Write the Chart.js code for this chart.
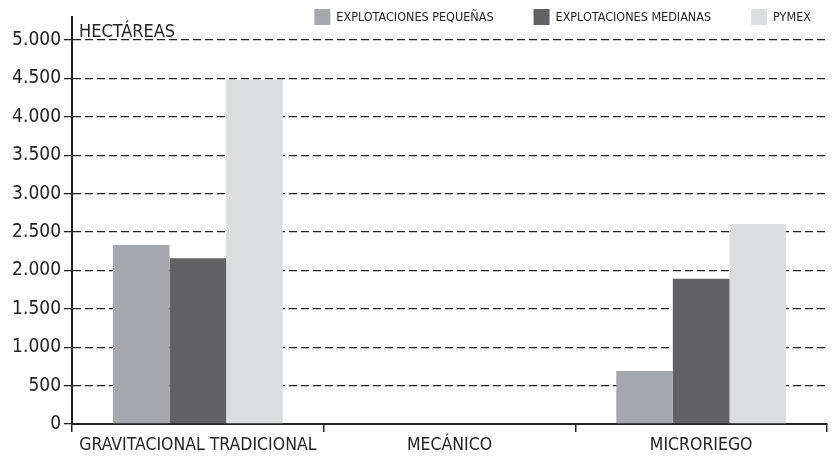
<!DOCTYPE html>
<html>
<head>
<meta charset="utf-8">
<script src="https://cdn.jsdelivr.net/npm/chart.js@4"></script>
<style>
  html, body { margin: 0; padding: 0; background: #fff; }
  #wrap { width: 832px; height: 457px; }
</style>
</head>
<body>
<div id="wrap"><canvas id="barChart" width="832" height="457"></canvas></div>
<script>
var categories = ['GRAVITACIONAL TRADICIONAL', 'MECÁNICO', 'MICRORIEGO'];
var seriesNames = ['EXPLOTACIONES PEQUEÑAS', 'EXPLOTACIONES MEDIANAS', 'PYMEX'];
var pequenas = [2330, 0, 690];
var medianas = [2160, 0, 1890];
var pymex = [4480, 0, 2605];
var yTicks = [0, 500, 1000, 1500, 2000, 2500, 3000, 3500, 4000, 4500, 5000];
var unitLabel = 'HECTÁREAS';

var colors = ['#a7a8ab', '#626264', '#dcdddf'];
var FONT = "'Liberation Sans Narrow', 'DejaVu Sans Condensed', 'Arial Narrow', sans-serif";

function fmt(v) {
  return String(v).replace(/\B(?=(\d{3})+(?!\d))/g, '.');
}

// unit label + legend drawn on top of the chart
var extras = {
  id: 'extras',
  afterDraw: function (chart) {
    var ctx = chart.ctx;
    ctx.save();
    ctx.fillStyle = '#222';
    ctx.font = '18px ' + FONT;
    ctx.textBaseline = 'alphabetic';
    ctx.textAlign = 'left';
    ctx.fillText(unitLabel, chart.chartArea.left + 7, 37);

    ctx.font = '12.5px ' + FONT;
    ctx.textBaseline = 'middle';
    var total = 0;
    chart.data.datasets.forEach(function (ds, i) {
      total += 22 + ctx.measureText(ds.label).width + (i < 2 ? 40 : 0);
    });
    var x = 811 - total;
    chart.data.datasets.forEach(function (ds) {
      ctx.fillStyle = ds.backgroundColor;
      ctx.fillRect(x, 9, 16, 16);
      ctx.fillStyle = '#222';
      ctx.fillText(ds.label, x + 22, 18);
      x += 22 + ctx.measureText(ds.label).width + 40;
    });
    ctx.restore();
  }
};

var barctx = document.getElementById('barChart').getContext('2d');
var barChart = new Chart(barctx, {
  type: 'bar',
  data: {
    labels: categories,
    datasets: [
      { label: seriesNames[0], data: pequenas, backgroundColor: colors[0] },
      { label: seriesNames[1], data: medianas, backgroundColor: colors[1] },
      { label: seriesNames[2], data: pymex, backgroundColor: colors[2] }
    ]
  },
  options: {
    responsive: false,
    animation: false,
    layout: { padding: { top: 17, right: 5, left: 0, bottom: 0 } },
    datasets: {
      bar: { categoryPercentage: 0.675, barPercentage: 1.0 }
    },
    plugins: {
      legend: { display: false },
      tooltip: { enabled: false }
    },
    scales: {
      x: {
        grid: {
          offset: true,
          drawOnChartArea: false,
          drawTicks: true,
          tickLength: 8,
          color: '#222',
          lineWidth: 1.5
        },
        border: { display: true, color: '#222', width: 2 },
        ticks: {
          color: '#222',
          padding: 3,
          maxRotation: 0,
          minRotation: 0,
          autoSkip: false,
          font: { family: FONT, size: 17.5 }
        },
        afterFit: function (scale) {
          scale.height = 33;
          scale.paddingLeft = 0;
          scale.paddingRight = 0;
        }
      },
      y: {
        min: 0,
        max: 5300,
        afterBuildTicks: function (scale) {
          scale.ticks = yTicks.map(function (v) { return { value: v }; });
        },
        grid: {
          color: function (c) { return c.tick && c.tick.value === 0 ? 'rgba(0,0,0,0)' : '#222'; },
          lineWidth: 1.3,
          tickLength: 8,
          tickColor: '#222',
          tickWidth: 1.3,
          tickBorderDash: []
        },
        border: { display: true, color: '#222', width: 2, dash: [8, 4] },
        ticks: {
          color: '#222',
          padding: 3,
          font: { family: FONT, size: 19 },
          callback: function (v) { return fmt(v); }
        },
        afterFit: function (scale) { scale.width = 72; }
      }
    }
  },
  plugins: [extras]
});
</script>
</body>
</html>
